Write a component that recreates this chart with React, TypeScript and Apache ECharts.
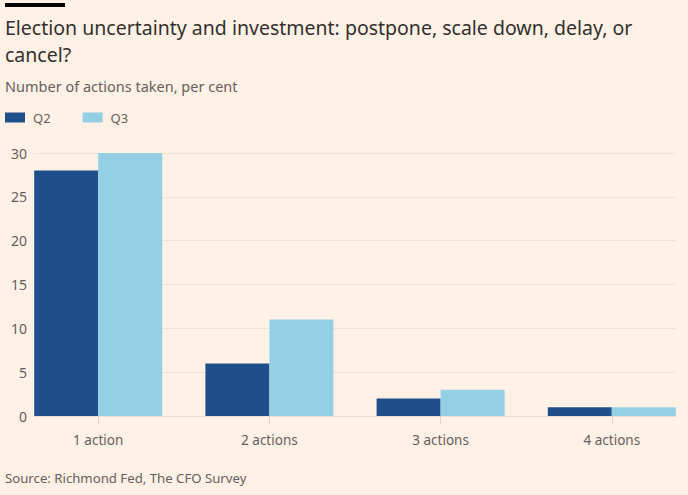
import React, { useEffect, useRef } from "react";
import * as echarts from "echarts";

const categories = ["1 action", "2 actions", "3 actions", "4 actions"];
const q2Values = [28, 6, 2, 1];
const q3Values = [30, 11, 3, 1];
const yTicks = [0, 5, 10, 15, 20, 25, 30];

const FONT = "'Noto Sans', sans-serif";

export default function App() {
  const ref = useRef<HTMLDivElement>(null);
  useEffect(() => {
    document.body.style.margin = "0";
    document.body.style.background = "#fff1e5";
    const chart = echarts.init(ref.current!, null, { renderer: "svg" });
    const idx = categories.map((_, i) => i);
    chart.setOption({
      animation: false,
      backgroundColor: "#fff1e5",
      textStyle: { fontFamily: FONT },
      graphic: [
        { type: "rect", shape: { x: 5, y: 3, width: 60, height: 4 }, style: { fill: "#000000" } },
        {
          type: "text", x: 5, y: 27,
          style: { text: "Election uncertainty and investment: postpone, scale down, delay, or", font: `19.5px ${FONT}`, fill: "#33302e", verticalAlign: "middle" },
        },
        {
          type: "text", x: 5, y: 54,
          style: { text: "cancel?", font: `19.5px ${FONT}`, fill: "#33302e", verticalAlign: "middle" },
        },
        {
          type: "text", x: 5, y: 86,
          style: { text: "Number of actions taken, per cent", font: `14.5px ${FONT}`, fill: "#66605c", verticalAlign: "middle" },
        },
        {
          type: "text", x: 5, y: 478,
          style: { text: "Source: Richmond Fed, The CFO Survey", font: `13.2px ${FONT}`, fill: "#66605c", verticalAlign: "middle" },
        },
      ],
      legend: {
        left: 0, top: 106, itemWidth: 20, itemHeight: 10, itemGap: 32,
        icon: "rect",
        textStyle: { fontSize: 13, color: "#66605c", fontFamily: FONT, padding: [0, 0, 0, 3] },
        data: ["Q2", "Q3"],
      },
      grid: { left: 34, right: 12, top: 153, bottom: 79 },
      xAxis: {
        type: "value",
        min: -0.375,
        max: 3.375,
        splitLine: { show: false },
        axisLine: { show: true, onZero: false, lineStyle: { color: "#e9dbcf", width: 1 } },
        axisTick: { show: true, customValues: idx, length: 8, lineStyle: { color: "#e0d3c8" } },
        axisLabel: {
          customValues: idx,
          formatter: (v: number) => categories[Math.round(v)] ?? "",
          color: "#66605c", fontSize: 13.5, fontFamily: FONT, margin: 17,
        },
      },
      yAxis: {
        type: "value",
        min: 0, max: 30, interval: 5,
        axisLine: { show: false },
        axisTick: { show: false },
        splitLine: { lineStyle: { color: "#f0e3d8", width: 1 } },
        axisLabel: { color: "#66605c", fontSize: 14, fontFamily: FONT, margin: 7,
          formatter: (v: number) => (yTicks.includes(v) ? String(v) : "") },
      },
      series: [
        {
          name: "Q2", type: "bar", barWidth: 64, barGap: "0%",
          itemStyle: { color: "#1e4f8a" },
          data: q2Values.map((v, i) => [i, v]),
        },
        {
          name: "Q3", type: "bar", barWidth: 64, barGap: "0%",
          itemStyle: { color: "#93d0e6" },
          data: q3Values.map((v, i) => [i, v]),
        },
      ],
    });
    return () => chart.dispose();
  }, []);
  return <div ref={ref} style={{ width: 688, height: 495 }} />;
}
